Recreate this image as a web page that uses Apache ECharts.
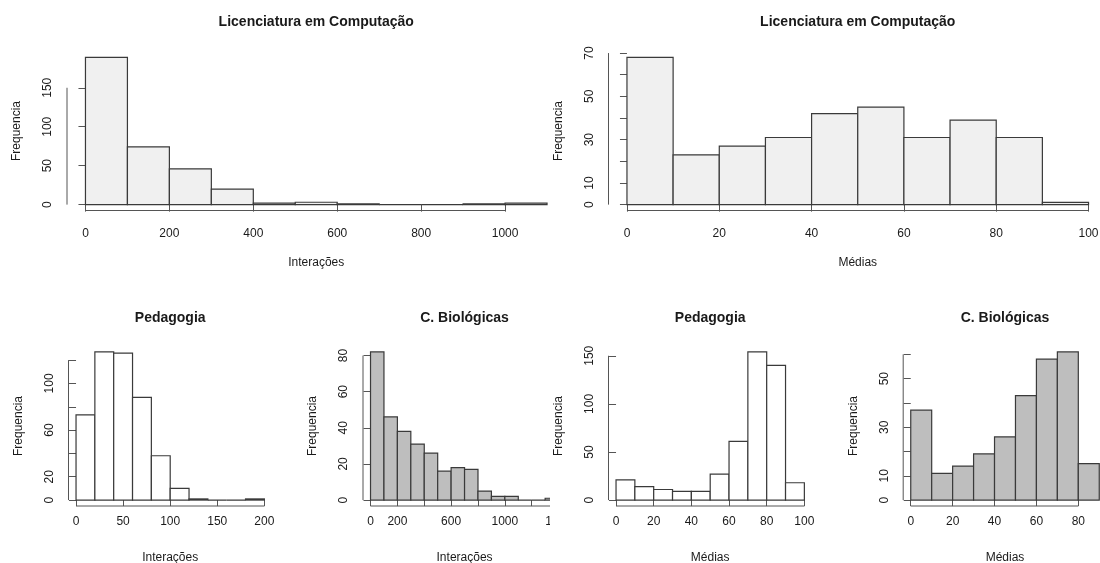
<!DOCTYPE html>
<html><head><meta charset="utf-8">
<script src="https://cdn.jsdelivr.net/npm/echarts@6/dist/echarts.min.js"></script>
<style>
html,body{margin:0;padding:0;background:#fff;width:1100px;height:563px;overflow:hidden}
#L{position:absolute;left:0;top:0;width:550px;height:563px;overflow:hidden}
#R{position:absolute;left:550px;top:0;width:550px;height:563px;overflow:hidden}
</style>
</head><body><div id="L"></div><div id="R"></div>
<script>
// ---------- DATA ----------
// Licenciatura em Computação - Interações
const compInterBreaks = [0,100,200,300,400,500,600,700,800,900,1000,1100];
const compInterCounts = [189,74,46,20,2,3,1,0,0,1,2];
const compInterXTicks = [0,200,400,600,800,1000];
const compInterYTicks = [0,50,100,150];
const compInterYLabels = [0,50,100,150];

// Licenciatura em Computação - Médias
const compMediaBreaks = [0,10,20,30,40,50,60,70,80,90,100];
const compMediaCounts = [68,23,27,31,42,45,31,39,31,1];
const compMediaXTicks = [0,20,40,60,80,100];
const compMediaYTicks = [0,10,20,30,40,50,60,70];
const compMediaYLabels = [0,10,30,50,70];

// Pedagogia - Interações
const pedInterBreaks = [0,20,40,60,80,100,120,140,160,180,200];
const pedInterCounts = [73,127,126,88,38,10,1,0,0,1];
const pedInterXTicks = [0,50,100,150,200];
const pedInterYTicks = [0,20,40,60,80,100,120];
const pedInterYLabels = [0,20,60,100];

// C. Biológicas - Interações
const bioInterBreaks = [0,100,200,300,400,500,600,700,800,900,1000,1100,1200,1300,1400];
const bioInterCounts = [82,46,38,31,26,16,18,17,5,2,2,0,0,1];
const bioInterXTicks = [0,200,400,600,800,1000,1200,1400];
const bioInterXLabels = [0,200,600,1000,1400];
const bioInterYTicks = [0,20,40,60,80];
const bioInterYLabels = [0,20,40,60,80];

// Pedagogia - Médias
const pedMediaBreaks = [0,10,20,30,40,50,60,70,80,90,100];
const pedMediaCounts = [21,14,11,9,9,27,61,154,140,18];
const pedMediaXTicks = [0,20,40,60,80,100];
const pedMediaYTicks = [0,50,100,150];
const pedMediaYLabels = [0,50,100,150];

// C. Biológicas - Médias
const bioMediaBreaks = [0,10,20,30,40,50,60,70,80,90];
const bioMediaCounts = [37,11,14,19,26,43,58,61,15];
const bioMediaXTicks = [0,20,40,60,80];
const bioMediaYTicks = [0,10,20,30,40,50,60];
const bioMediaYLabels = [0,10,30,50];

const titleComp = 'Licenciatura em Computação';
const titlePed = 'Pedagogia';
const titleBio = 'C. Biológicas';
const xNameInter = 'Interações';
const xNameMedia = 'Médias';
const yName = 'Frequencia';

// ---------- STYLE / LAYOUT ----------
const FONT = '"Liberation Sans", Arial, Helvetica, sans-serif';
const TXT = '#1a1a1a';
const LINE = '#3a3a3a';
const AXL = '#555';

const rowTop = {top: 51.5, height: 159, tickLen: 7, labelMargin: 17, titleTop: 15, nameGapX: 46};
const rowBot = {top: 346, height: 160, tickLen: 6, labelMargin: 10, titleTop: 311, nameGapX: 46};

function plainNum(v) { return String(v); }

function buildOption(panels) {
  const opt = {animation: false, backgroundColor: '#fff', title: [], grid: [], xAxis: [], yAxis: [], series: []};
  panels.forEach((p, i) => {
    const row = p.row;
    const xmin = p.breaks[0], xmax = p.breaks[p.breaks.length - 1];
    const dx = 0.04 * (xmax - xmin);
    const ymax = Math.max.apply(null, p.counts);
    const dy = 0.04 * ymax;
    const xMinE = xmin - dx, xMaxE = xmax + dx, yMinE = -dy, yMaxE = ymax + dy;
    opt.grid.push({left: p.left, top: row.top, width: p.width, height: row.height,
      containLabel: false, outerBoundsMode: 'none'});
    opt.title.push({
      text: p.title, left: p.left + p.width / 2, top: row.titleTop, textAlign: 'center', padding: 0,
      textStyle: {fontFamily: FONT, fontSize: 14, fontWeight: 'bold', color: TXT}
    });
    opt.xAxis.push({
      type: 'value', gridIndex: i, min: xMinE, max: xMaxE, position: 'bottom',
      axisLine: {show: false}, splitLine: {show: false},
      axisTick: {show: true, customValues: p.xTicks, length: row.tickLen, lineStyle: {color: AXL, width: 1}},
      axisLabel: {customValues: p.xLabels || p.xTicks, formatter: plainNum, margin: row.labelMargin,
        fontFamily: FONT, fontSize: 12, color: TXT},
      name: p.xName, nameLocation: 'middle', nameGap: row.nameGapX,
      nameTextStyle: {fontFamily: FONT, fontSize: 12, color: TXT}
    });
    opt.yAxis.push({
      type: 'value', gridIndex: i, min: yMinE, max: yMaxE, position: 'left',
      axisLine: {show: false}, splitLine: {show: false},
      axisTick: {show: true, customValues: p.yTicks, length: 7, lineStyle: {color: AXL, width: 1}},
      axisLabel: {customValues: p.yLabels, formatter: plainNum, rotate: 90, margin: 13,
        fontFamily: FONT, fontSize: 12, color: TXT},
      name: yName, nameLocation: 'middle', nameGap: 44, nameRotate: 90,
      nameTextStyle: {fontFamily: FONT, fontSize: 12, color: TXT}
    });
    const binData = p.counts.map((c, k) => [p.breaks[k], p.breaks[k + 1], c]);
    opt.series.push({
      type: 'custom', xAxisIndex: i, yAxisIndex: i, clip: false,
      encode: {x: [0, 1], y: 2},
      data: binData,
      renderItem: function (params, api) {
        const a = api.coord([api.value(0), 0]);
        const b = api.coord([api.value(1), api.value(2)]);
        return {
          type: 'rect',
          shape: {x: a[0], y: b[1], width: b[0] - a[0], height: a[1] - b[1]},
          style: {fill: p.fill, stroke: LINE, lineWidth: 1.2}
        };
      }
    });
    // R-style axis lines spanning first to last tick, at the plot region edges
    opt.series.push({
      type: 'custom', xAxisIndex: i, yAxisIndex: i, clip: false, silent: true,
      data: [[p.xTicks[0], p.xTicks[p.xTicks.length - 1], p.yTicks[0], p.yTicks[p.yTicks.length - 1]]],
      encode: {x: [0, 1], y: [2, 3]},
      renderItem: function (params, api) {
        const x0 = api.coord([api.value(0), yMinE]);
        const x1 = api.coord([api.value(1), yMinE]);
        const y0 = api.coord([xMinE, api.value(2)]);
        const y1 = api.coord([xMinE, api.value(3)]);
        return {
          type: 'group', children: [
            {type: 'line', shape: {x1: x0[0], y1: x0[1], x2: x1[0], y2: x1[1]}, style: {stroke: AXL, lineWidth: 1}},
            {type: 'line', shape: {x1: y0[0], y1: y0[1], x2: y1[0], y2: y1[1]}, style: {stroke: AXL, lineWidth: 1}}
          ]
        };
      }
    });
  });
  return opt;
}

const leftPanels = [
  {row: rowTop, left: 67, width: 498.5, title: titleComp, xName: xNameInter, breaks: compInterBreaks, counts: compInterCounts,
   fill: '#f0f0f0', xTicks: compInterXTicks, yTicks: compInterYTicks, yLabels: compInterYLabels},
  {row: rowBot, left: 68.5, width: 203.4, title: titlePed, xName: xNameInter, breaks: pedInterBreaks, counts: pedInterCounts,
   fill: '#ffffff', xTicks: pedInterXTicks, yTicks: pedInterYTicks, yLabels: pedInterYLabels},
  {row: rowBot, left: 363, width: 203.1, title: titleBio, xName: xNameInter, breaks: bioInterBreaks, counts: bioInterCounts,
   fill: '#bebebe', xTicks: bioInterXTicks, xLabels: bioInterXLabels, yTicks: bioInterYTicks, yLabels: bioInterYLabels}
];
const rightPanels = [
  {row: rowTop, left: 58.5, width: 498.5, title: titleComp, xName: xNameMedia, breaks: compMediaBreaks, counts: compMediaCounts,
   fill: '#f0f0f0', xTicks: compMediaXTicks, yTicks: compMediaYTicks, yLabels: compMediaYLabels},
  {row: rowBot, left: 58.5, width: 203.4, title: titlePed, xName: xNameMedia, breaks: pedMediaBreaks, counts: pedMediaCounts,
   fill: '#ffffff', xTicks: pedMediaXTicks, yTicks: pedMediaYTicks, yLabels: pedMediaYLabels},
  {row: rowBot, left: 353.2, width: 203.6, title: titleBio, xName: xNameMedia, breaks: bioMediaBreaks, counts: bioMediaCounts,
   fill: '#bebebe', xTicks: bioMediaXTicks, yTicks: bioMediaYTicks, yLabels: bioMediaYLabels}
];

echarts.init(document.getElementById('L'), null, {renderer: 'canvas'}).setOption(buildOption(leftPanels));
echarts.init(document.getElementById('R'), null, {renderer: 'canvas'}).setOption(buildOption(rightPanels));
</script>
</body></html>
